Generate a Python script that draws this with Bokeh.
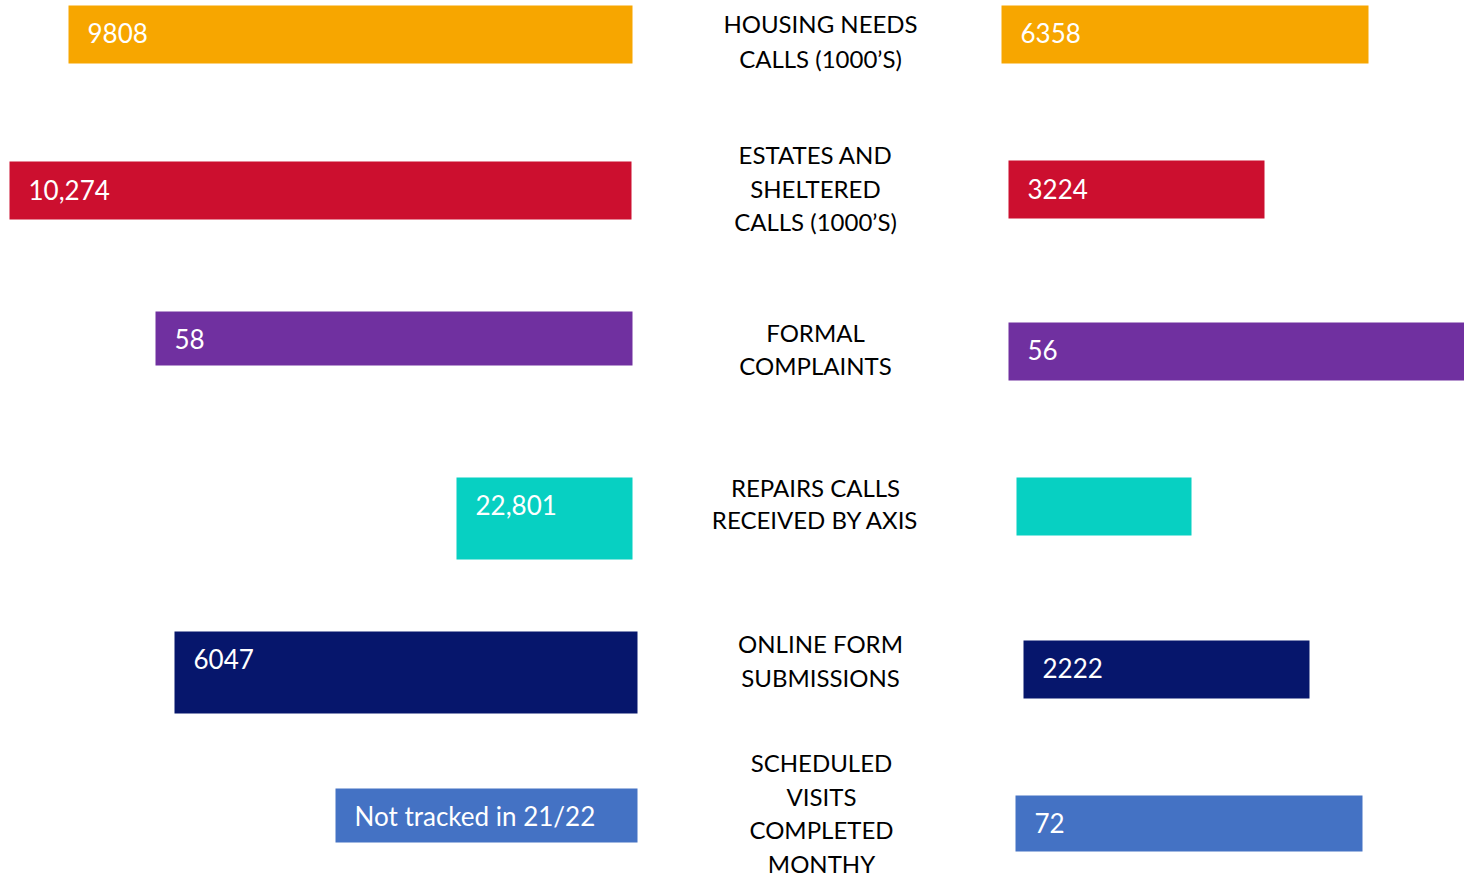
from bokeh.plotting import figure
from bokeh.models import Range1d, ColumnDataSource
from bokeh.core.properties import value
from bokeh.embed import file_html
from bokeh.resources import INLINE

# ---- data ----
labels = [
    ["HOUSING NEEDS", "CALLS (1000\u2019S)"],
    ["ESTATES AND", "SHELTERED", "CALLS (1000\u2019S)"],
    ["FORMAL", "COMPLAINTS"],
    ["REPAIRS CALLS", "RECEIVED BY AXIS"],
    ["ONLINE FORM", "SUBMISSIONS"],
    ["SCHEDULED", "VISITS", "COMPLETED", "MONTHY"],
]
left_text = ["9808", "10,274", "58", "22,801", "6047", "Not tracked in 21/22"]
right_text = ["6358", "3224", "56", "", "2222", "72"]
colors = ["#F7A600", "#CC0F2F", "#7030A0", "#07D0C2", "#06166C", "#4472C4"]

# bar extents (pixel units of the infographic)
left_x0 = [68, 9, 155, 456, 174, 335]
left_x1 = [632, 631, 632, 632, 637, 637]
left_y0 = [5, 161, 311, 477, 631, 788]
left_y1 = [63, 219, 365, 559, 713, 842]
right_x0 = [1001, 1008, 1008, 1016, 1023, 1015]
right_x1 = [1368, 1264, 1464, 1191, 1309, 1362]
right_y0 = [5, 160, 322, 477, 640, 795]
right_y1 = [63, 218, 380, 535, 698, 851]
label_cx = [820, 815, 815, 815, 820, 821]
label_cy = [40.5, 187.5, 348.5, 503, 660, 812.5]
label_gap = [35, 33.5, 33, 32, 34, 33.5]
left_text_y = [32, 189, 338, 504, 658, 815]
right_text_y = [32, 188, 349, 505, 667, 822]

W, H = 1464, 877
p = figure(width=W, height=H, x_range=Range1d(0, W), y_range=Range1d(H, 0),
           output_backend="svg", toolbar_location=None, min_border=0,
           background_fill_color="white", border_fill_color="white")
p.outline_line_color = None
p.xaxis.visible = False
p.yaxis.visible = False
p.xgrid.visible = False
p.ygrid.visible = False

FONT = "Lato"

p.quad(left=left_x0, right=left_x1, top=left_y0, bottom=left_y1,
       fill_color=colors, line_color=None)
p.quad(left=right_x0, right=right_x1, top=right_y0, bottom=right_y1,
       fill_color=colors, line_color=None)

lt = ColumnDataSource(dict(x=[a + 19 for a in left_x0], y=left_text_y, t=left_text))
rt = ColumnDataSource(dict(x=[a + 19 for a in right_x0], y=right_text_y, t=right_text))
for src in (lt, rt):
    p.text(x="x", y="y", text="t", source=src, text_color="white",
           text_font=value(FONT), text_font_size="26px",
           text_baseline="middle", text_align="left")

lx, ly, ltx = [], [], []
for i, lines in enumerate(labels):
    n = len(lines)
    for j, s in enumerate(lines):
        lx.append(label_cx[i])
        ly.append(label_cy[i] + (j - (n - 1) / 2) * label_gap[i])
        ltx.append(s)
p.text(x=lx, y=ly, text=ltx, text_color="black", text_font=value(FONT),
       text_font_size="24px", text_baseline="middle", text_align="center")

open("out.html", "w").write(file_html(p, INLINE))
